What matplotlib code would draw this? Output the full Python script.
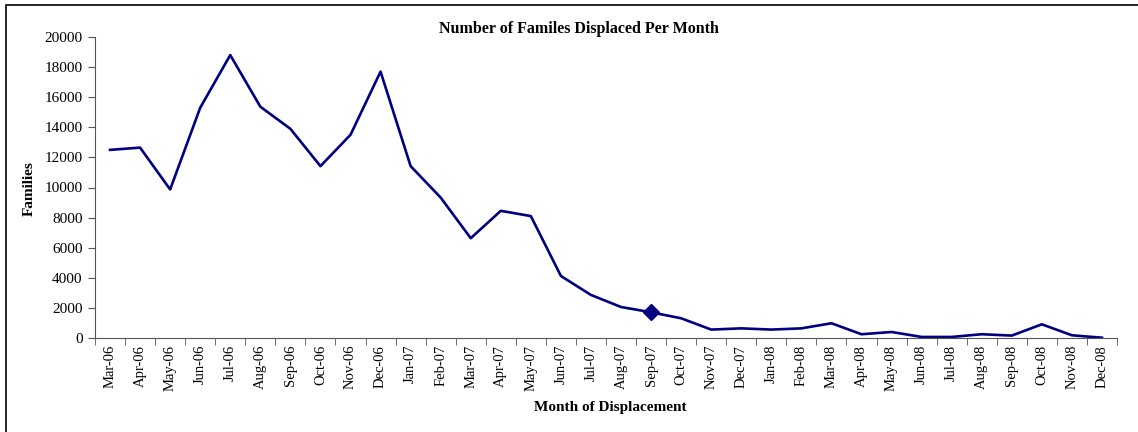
import matplotlib
matplotlib.use("Agg")
import matplotlib.pyplot as plt
from matplotlib.patches import Rectangle

plt.rcParams['font.family'] = ['Liberation Serif', 'DejaVu Serif']

# months of displacement
months = ["Mar-06", "Apr-06", "May-06", "Jun-06", "Jul-06", "Aug-06", "Sep-06",
          "Oct-06", "Nov-06", "Dec-06", "Jan-07", "Feb-07", "Mar-07", "Apr-07",
          "May-07", "Jun-07", "Jul-07", "Aug-07", "Sep-07", "Oct-07", "Nov-07",
          "Dec-07", "Jan-08", "Feb-08", "Mar-08", "Apr-08", "May-08", "Jun-08",
          "Jul-08", "Aug-08", "Sep-08", "Oct-08", "Nov-08", "Dec-08"]
# families displaced
families = [12500, 12650, 9870, 15300, 18800, 15370, 13900,
            11420, 13500, 17700, 11420, 9330, 6630, 8450,
            8100, 4120, 2860, 2060, 1710, 1310, 560,
            640, 560, 640, 980, 250, 400, 70,
            70, 250, 160, 910, 180, 20]
marked = "Sep-07"

fig = plt.figure(figsize=(11.38, 4.32), dpi=100)
ax = fig.add_axes([95/1138, 1 - 338/432, (1117-95)/1138, (338-37)/432])

x = list(range(len(months)))
ax.plot(x, families, '-', color='#000080', lw=1.9)
i = months.index(marked)
ax.plot([i], [families[i]], 'D', color='#000080', ms=8.5)

ax.set_xlim(-0.5, len(months) - 0.5)
ax.set_ylim(0, 20000)
ax.set_yticks(range(0, 20001, 2000))
ax.set_xticks(x)
ax.set_xticklabels(months, rotation=90, fontsize=10.5)
ax.set_xticks([k - 0.5 for k in range(len(months) + 1)], minor=True)
ax.tick_params(axis='x', which='major', length=0, pad=5)
ax.tick_params(axis='x', which='minor', length=5, color='#555555')
ax.tick_params(axis='y', length=5, color='#555555', labelsize=11, pad=4)
for s in ['top', 'right']:
    ax.spines[s].set_visible(False)
for s in ['left', 'bottom']:
    ax.spines[s].set_color('#555555')

fig.text(579/1138, 1 - 29/432, "Number of Familes Displaced Per Month",
         ha='center', va='center', fontsize=11.5, fontweight='bold')
fig.text(29/1138, 1 - 189/432, "Families", rotation=90,
         ha='center', va='center', fontsize=11, fontweight='bold')
fig.text(610/1138, 1 - 408/432, "Month of Displacement",
         ha='center', va='center', fontsize=11, fontweight='bold')

# chart border
fig.patches.append(Rectangle((6/1138, -0.1), 1.2, 1 - 5/432 + 0.1,
                             transform=fig.transFigure, fill=False,
                             edgecolor='black', lw=1.2))

fig.savefig("out.png", dpi=100)
